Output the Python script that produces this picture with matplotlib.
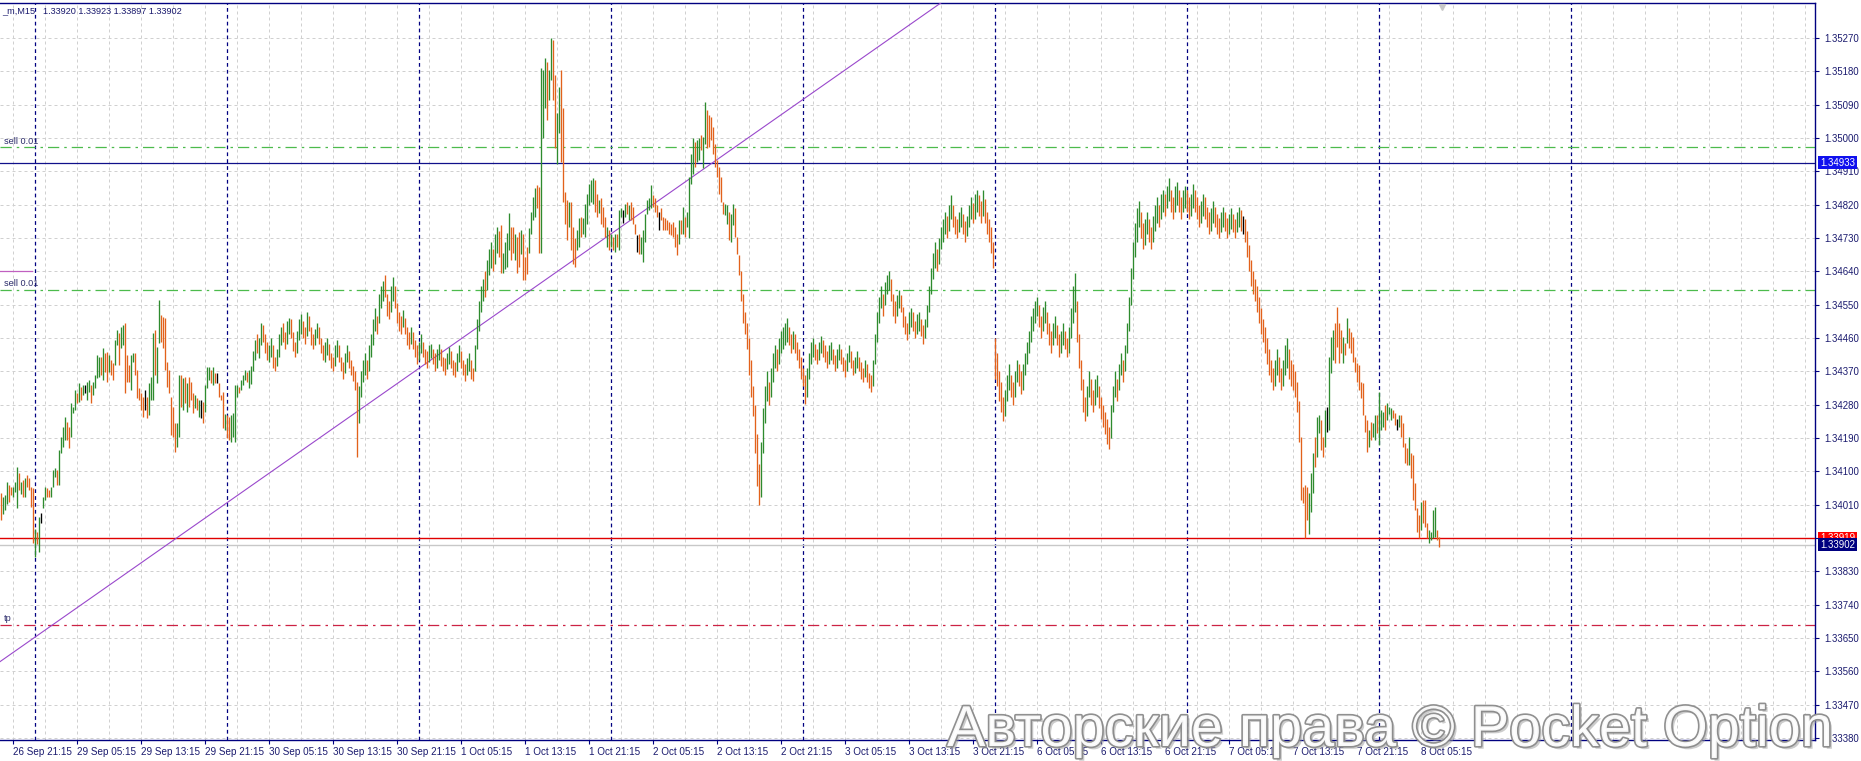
import matplotlib
matplotlib.use("Agg")
import matplotlib.pyplot as plt
import matplotlib.patheffects as pe
import matplotlib.transforms as mtransforms
import numpy as np
import pandas as pd

# ---------------- data (prices in points above 1.30000; 1 point = 0.00001) ----------------
BASE = 1.30000
POINT = 0.00001

# each bar: (low, high, direction)  u = up bar, d = down bar, n = doji
sep26 = [(3968,4041,'d'),(3985,4030,'u'),(3995,4035,'u'),(4013,4072,'u'),(4018,4063,'d'),(4036,4058,'d'),
         (4030,4058,'u'),(4045,4072,'u'),(4000,4113,'u'),(4050,4095,'d'),(4040,4072,'u'),(4031,4076,'d'),
         (4031,4081,'u'),(4058,4090,'d'),(4050,4081,'d'),(4005,4058,'d'),(3906,4054,'d')]

sep29 = [(3870,3945,'u'),(3905,3937,'d'),(3883,3978,'u'),(3960,3987,'n'),(4002,4031,'u'),(4023,4059,'u'),(4032,4054,'d'),(4031,4050,'d'),
         (4032,4059,'u'),(4059,4103,'u'),(4085,4108,'u'),(4063,4103,'d'),(4063,4158,'u'),(4149,4194,'u'),(4167,4221,'u'),(4185,4248,'u'),
         (4185,4234,'d'),(4162,4221,'d'),(4194,4284,'u'),(4257,4275,'u'),(4266,4320,'u'),(4284,4311,'d'),(4288,4338,'u'),(4293,4329,'d'),
         (4306,4333,'u'),(4311,4333,'n'),(4293,4342,'u'),(4315,4347,'u'),(4284,4333,'d'),(4306,4342,'u'),(4324,4360,'u'),(4351,4414,'u'),
         (4356,4410,'u'),(4360,4410,'d'),(4346,4432,'u'),(4369,4419,'d'),(4342,4423,'d'),(4369,4414,'u'),(4360,4401,'d'),(4347,4392,'d'),
         (4387,4455,'u'),(4441,4482,'u'),(4387,4473,'d'),(4432,4491,'u'),(4441,4495,'u'),(4311,4500,'d'),(4342,4414,'d'),(4342,4387,'d'),
         (4320,4414,'u'),(4396,4419,'u'),(4360,4419,'d'),(4297,4374,'d'),(4293,4324,'d'),(4266,4311,'d'),(4248,4302,'d'),(4266,4320,'n'),
         (4243,4302,'d'),(4252,4338,'u'),(4293,4356,'u'),(4293,4473,'u'),(4360,4482,'d'),(4338,4437,'u'),(4446,4563,'u'),(4450,4522,'d'),
         (4432,4518,'d'),(4374,4513,'d'),(4329,4396,'d'),(4311,4374,'d'),(4198,4302,'d'),(4194,4275,'d'),(4153,4230,'d'),(4167,4230,'u'),
         (4194,4360,'u'),(4275,4360,'d'),(4266,4351,'u'),(4284,4356,'d'),(4261,4338,'u'),(4275,4356,'d'),(4293,4342,'d'),(4257,4311,'d'),
         (4270,4306,'u'),(4266,4297,'d'),(4248,4293,'u'),(4243,4293,'n'),(4230,4288,'d'),(4261,4333,'u'),(4324,4383,'u'),(4347,4383,'u'),
         (4338,4374,'d'),(4333,4383,'u'),(4338,4365,'d'),(4338,4365,'n'),(4301,4338,'d'),(4293,4306,'d'),(4216,4315,'d'),(4212,4256,'u')]

sep30 = [(4189,4252,'d'),(4185,4248,'d'),(4180,4252,'u'),(4194,4257,'u'),(4180,4333,'u'),(4301,4333,'u'),(4311,4329,'d'),(4320,4347,'u'),
         (4333,4360,'u'),(4347,4374,'u'),(4342,4369,'d'),(4324,4374,'u'),(4335,4385,'u'),(4370,4425,'u'),(4400,4455,'u'),(4420,4470,'d'),
         (4405,4460,'u'),(4440,4500,'u'),(4450,4495,'d'),(4420,4470,'d'),(4400,4450,'d'),(4395,4440,'u'),(4410,4460,'u'),(4380,4440,'d'),
         (4370,4410,'d'),(4385,4430,'u'),(4410,4470,'u'),(4440,4490,'u'),(4450,4500,'d'),(4430,4475,'d'),(4445,4505,'u'),(4470,4515,'u'),
         (4460,4510,'d'),(4425,4475,'d'),(4410,4450,'d'),(4420,4480,'u'),(4455,4510,'u'),(4470,4525,'u'),(4460,4505,'d'),(4445,4490,'d'),
         (4465,4530,'u'),(4480,4520,'d'),(4440,4490,'d'),(4430,4470,'d'),(4440,4485,'u'),(4460,4500,'u'),(4445,4490,'d'),(4420,4460,'d'),
         (4400,4440,'d'),(4395,4450,'u'),(4415,4460,'u'),(4400,4445,'d'),(4380,4420,'d'),(4370,4410,'d'),(4385,4440,'u'),(4410,4455,'u'),
         (4395,4440,'d'),(4370,4410,'d'),(4350,4395,'d'),(4365,4420,'u'),(4395,4440,'u'),(4380,4425,'d'),(4360,4400,'d'),(4345,4385,'d'),
         (4320,4370,'d'),(4140,4340,'d'),(4230,4330,'u'),(4300,4370,'u'),(4340,4400,'u'),(4360,4420,'u'),(4350,4400,'d'),(4370,4440,'u'),
         (4410,4470,'u'),(4440,4510,'u'),(4480,4540,'u'),(4470,4520,'d'),(4500,4580,'u'),(4540,4600,'u'),(4560,4615,'u'),(4570,4630,'d'),
         (4520,4580,'d'),(4510,4560,'d'),(4530,4600,'u'),(4560,4625,'u'),(4540,4600,'d'),(4500,4555,'d'),(4480,4530,'d'),(4470,4520,'d'),
         (4490,4535,'u'),(4470,4515,'d'),(4440,4490,'d'),(4430,4475,'d'),(4445,4490,'u'),(4430,4475,'d'),(4410,4455,'d'),(4390,4440,'d')]

oct1 = [(4400,4450,'u'),(4420,4470,'u'),(4410,4450,'d'),(4390,4430,'d'),(4380,4425,'d'),(4395,4440,'u'),(4405,4445,'u'),(4390,4430,'d'),
        (4370,4420,'d'),(4380,4430,'u'),(4400,4445,'u'),(4385,4430,'d'),(4370,4410,'d'),(4360,4405,'d'),(4375,4420,'u'),(4390,4435,'u'),
        (4380,4425,'d'),(4360,4400,'d'),(4355,4395,'d'),(4370,4420,'u'),(4395,4440,'u'),(4380,4425,'d'),(4360,4400,'d'),(4345,4390,'d'),
        (4360,4405,'u'),(4370,4420,'u'),(4350,4400,'d'),(4345,4380,'d'),(4370,4440,'u'),(4430,4510,'u'),(4480,4560,'u'),(4530,4600,'u'),
        (4560,4620,'u'),(4570,4640,'d'),(4590,4670,'u'),(4630,4700,'u'),(4650,4720,'u'),(4640,4700,'d'),(4660,4740,'u'),(4690,4760,'u'),
        (4680,4750,'d'),(4635,4765,'d'),(4635,4689,'u'),(4645,4720,'u'),(4653,4743,'u'),(4697,4797,'u'),(4670,4760,'d'),(4689,4760,'d'),
        (4670,4742,'u'),(4635,4733,'d'),(4652,4747,'d'),(4688,4752,'u'),(4617,4742,'d'),(4617,4679,'d'),(4634,4706,'d'),(4689,4756,'u'),
        (4742,4801,'u'),(4778,4841,'u'),(4788,4864,'u'),(4810,4873,'d'),(4689,4868,'d'),(4689,5188,'u'),(4999,5184,'u'),(5080,5215,'u'),
        (5049,5206,'d'),(5103,5184,'u'),(5156,5269,'u'),(5103,5265,'d'),(4972,5170,'d'),(4931,5067,'u'),(5013,5139,'u'),(4936,5184,'d'),
        (4828,5080,'d'),(4769,4855,'d'),(4724,4832,'d'),(4760,4828,'u'),(4697,4828,'d'),(4661,4760,'d'),(4652,4729,'d'),(4697,4751,'u'),
        (4706,4783,'u'),(4733,4788,'d'),(4742,4783,'u'),(4733,4823,'u'),(4769,4850,'u'),(4819,4877,'u'),(4828,4886,'u'),(4823,4891,'u'),
        (4801,4886,'d'),(4787,4850,'d'),(4797,4832,'u'),(4769,4837,'d'),(4760,4815,'d'),(4733,4787,'d'),(4706,4760,'u'),(4697,4751,'d')]

oct2 = [(4706,4742,'u'),(4697,4733,'d'),(4693,4742,'u'),(4706,4742,'d'),(4697,4805,'u'),(4787,4810,'u'),(4770,4805,'n'),(4787,4823,'u'),
        (4796,4828,'d'),(4778,4819,'u'),(4778,4828,'d'),(4769,4814,'d'),(4742,4769,'d'),(4693,4738,'n'),(4688,4742,'d'),(4688,4733,'u'),
        (4666,4751,'u'),(4720,4796,'u'),(4796,4832,'u'),(4805,4837,'u'),(4810,4873,'u'),(4814,4846,'d'),(4801,4837,'d'),(4787,4819,'d'),
        (4751,4801,'n'),(4778,4810,'d'),(4751,4787,'d'),(4751,4783,'d'),(4751,4778,'d'),(4742,4774,'d'),(4738,4769,'d'),(4733,4774,'d'),
        (4706,4760,'d'),(4684,4742,'d'),(4715,4778,'u'),(4742,4778,'d'),(4742,4814,'u'),(4733,4787,'d'),(4760,4800,'u'),(4729,4896,'u'),
        (4877,4958,'u'),(4904,4999,'u'),(4922,4990,'d'),(4936,4994,'u'),(4940,4999,'u'),(4967,5008,'d'),(4918,5003,'u'),(4985,5098,'u'),
        (4972,5075,'d'),(4976,5062,'d'),(4994,5057,'d'),(4958,5031,'d'),(4922,4985,'d'),(4895,4940,'d'),(4850,4922,'d'),(4828,4895,'d'),
        (4796,4828,'d'),(4792,4823,'u'),(4769,4819,'u'),(4724,4801,'d'),(4720,4796,'u'),(4765,4823,'u'),(4733,4810,'d'),(4688,4733,'d'),
        (4630,4684,'d'),(4560,4640,'d'),(4500,4580,'d'),(4470,4530,'d'),(4430,4500,'d'),(4360,4460,'d'),(4300,4400,'d'),(4250,4330,'d'),
        (4150,4280,'d'),(4060,4200,'d'),(4010,4120,'d'),(4030,4180,'u'),(4150,4270,'u'),(4230,4330,'u'),(4290,4370,'u'),(4280,4340,'d'),
        (4300,4380,'u'),(4340,4420,'u'),(4380,4440,'u'),(4370,4430,'d'),(4390,4460,'u'),(4420,4480,'u'),(4430,4490,'u'),(4440,4500,'u'),
        (4450,4515,'u'),(4440,4490,'d'),(4420,4470,'d'),(4430,4480,'u'),(4420,4470,'d'),(4400,4450,'d'),(4380,4430,'d'),(4350,4410,'d')]

oct3 = [(4330,4380,'d'),(4283,4360,'d'),(4300,4380,'u'),(4350,4420,'u'),(4390,4450,'u'),(4410,4460,'u'),(4400,4445,'d'),(4390,4430,'d'),
        (4400,4450,'u'),(4420,4465,'u'),(4410,4455,'d'),(4395,4440,'d'),(4380,4425,'d'),(4390,4440,'u'),(4400,4450,'u'),(4390,4430,'d'),
        (4370,4415,'d'),(4380,4430,'u'),(4400,4445,'u'),(4390,4430,'d'),(4370,4410,'d'),(4355,4400,'d'),(4370,4420,'u'),(4395,4440,'u'),
        (4380,4425,'d'),(4360,4400,'d'),(4365,4410,'u'),(4380,4425,'u'),(4370,4410,'d'),(4350,4395,'d'),(4340,4380,'d'),(4355,4400,'u'),
        (4340,4390,'d'),(4325,4365,'d'),(4315,4360,'d'),(4330,4400,'u'),(4390,4470,'u'),(4450,4530,'u'),(4500,4570,'u'),(4540,4600,'u'),
        (4520,4580,'d'),(4550,4610,'u'),(4580,4630,'u'),(4590,4642,'u'),(4560,4620,'d'),(4520,4580,'d'),(4500,4560,'d'),(4520,4575,'u'),
        (4540,4590,'u'),(4530,4575,'d'),(4490,4545,'d'),(4470,4520,'d'),(4455,4500,'d'),(4470,4530,'u'),(4490,4540,'u'),(4480,4530,'d'),
        (4460,4505,'d'),(4470,4525,'u'),(4480,4530,'u'),(4465,4510,'d'),(4445,4495,'d'),(4460,4510,'u'),(4490,4550,'u'),(4530,4600,'u'),
        (4580,4650,'u'),(4620,4690,'u'),(4650,4720,'u'),(4640,4700,'d'),(4660,4730,'u'),(4700,4760,'u'),(4720,4780,'u'),(4740,4800,'u'),
        (4730,4790,'d'),(4750,4820,'u'),(4780,4845,'u'),(4760,4820,'d'),(4740,4790,'d'),(4730,4780,'d'),(4745,4800,'u'),(4760,4815,'u'),
        (4740,4795,'d'),(4720,4775,'d'),(4735,4790,'u'),(4760,4820,'u'),(4780,4840,'u'),(4770,4825,'d'),(4780,4850,'u'),(4800,4860,'u'),
        (4790,4845,'d'),(4770,4830,'d'),(4790,4860,'u'),(4770,4835,'d'),(4740,4800,'d'),(4720,4780,'d'),(4690,4760,'d'),(4650,4720,'d')]

oct6 = [(4350,4460,'d'),(4330,4420,'d'),(4290,4370,'d'),(4260,4340,'d'),(4235,4300,'d'),(4250,4320,'u'),(4290,4360,'u'),(4320,4390,'u'),
        (4300,4360,'d'),(4280,4340,'d'),(4300,4370,'u'),(4340,4400,'u'),(4330,4390,'d'),(4310,4370,'d'),(4320,4390,'u'),(4360,4420,'u'),
        (4390,4450,'u'),(4420,4480,'u'),(4450,4520,'u'),(4480,4540,'u'),(4500,4560,'u'),(4520,4571,'u'),(4490,4550,'d'),(4460,4520,'d'),
        (4480,4545,'u'),(4500,4560,'u'),(4470,4530,'d'),(4440,4500,'d'),(4420,4480,'d'),(4440,4500,'u'),(4460,4520,'u'),(4440,4495,'d'),
        (4410,4470,'d'),(4420,4480,'u'),(4440,4500,'u'),(4430,4480,'d'),(4410,4460,'d'),(4420,4490,'u'),(4460,4540,'u'),(4500,4600,'u'),
        (4530,4635,'u'),(4450,4560,'d'),(4380,4470,'d'),(4320,4400,'d'),(4260,4350,'d'),(4235,4300,'d'),(4250,4330,'u'),(4300,4370,'u'),
        (4280,4350,'d'),(4260,4320,'d'),(4280,4350,'u'),(4300,4360,'u'),(4270,4330,'d'),(4240,4300,'d'),(4220,4280,'d'),(4200,4260,'d'),
        (4175,4240,'d'),(4161,4220,'d'),(4190,4280,'u'),(4260,4330,'u'),(4300,4370,'u'),(4290,4350,'d'),(4320,4390,'u'),(4360,4420,'u'),
        (4340,4400,'d'),(4370,4440,'u'),(4420,4500,'u'),(4480,4570,'u'),(4550,4650,'u'),(4620,4720,'u'),(4680,4770,'u'),(4720,4810,'u'),
        (4760,4830,'u'),(4730,4800,'d'),(4700,4770,'d'),(4710,4780,'u'),(4740,4800,'u'),(4720,4780,'d'),(4700,4760,'d'),(4720,4790,'u'),
        (4750,4820,'u'),(4770,4840,'u'),(4760,4820,'d'),(4780,4850,'u'),(4800,4860,'u'),(4790,4850,'d'),(4810,4870,'u'),(4830,4892,'u'),
        (4800,4860,'d'),(4780,4840,'d'),(4800,4870,'u'),(4820,4880,'u'),(4800,4860,'d'),(4780,4840,'d'),(4800,4860,'u'),(4810,4870,'u')]

oct7 = [(4800,4860,'d'),(4780,4840,'d'),(4790,4850,'u'),(4810,4875,'u'),(4800,4860,'d'),(4780,4840,'d'),(4760,4820,'d'),(4770,4830,'u'),
        (4790,4850,'u'),(4780,4840,'d'),(4760,4815,'d'),(4740,4800,'d'),(4750,4810,'u'),(4770,4830,'u'),(4760,4815,'d'),(4740,4795,'d'),
        (4730,4785,'d'),(4745,4800,'u'),(4760,4815,'u'),(4750,4800,'d'),(4730,4785,'d'),(4740,4795,'u'),(4755,4810,'u'),(4745,4795,'d'),
        (4730,4780,'d'),(4745,4800,'u'),(4760,4815,'u'),(4750,4805,'d'),(4740,4790,'n'),(4720,4780,'d'),(4680,4750,'d'),(4640,4710,'d'),
        (4600,4670,'d'),(4580,4640,'d'),(4560,4620,'d'),(4530,4600,'d'),(4500,4570,'d'),(4470,4540,'d'),(4450,4510,'d'),(4420,4490,'d'),
        (4390,4460,'d'),(4360,4430,'d'),(4340,4400,'d'),(4320,4380,'d'),(4330,4400,'u'),(4360,4430,'u'),(4340,4410,'d'),(4320,4380,'d'),
        (4330,4400,'u'),(4360,4440,'u'),(4380,4460,'u'),(4350,4430,'d'),(4330,4400,'d'),(4320,4390,'d'),(4300,4370,'d'),(4260,4340,'d'),
        (4180,4290,'d'),(4023,4194,'d'),(4014,4059,'d'),(3919,4063,'d'),(3968,4059,'d'),(3932,4041,'u'),(3991,4095,'u'),(4041,4149,'u'),
        (4113,4194,'d'),(4140,4248,'u'),(4203,4252,'u'),(4158,4239,'d'),(4140,4194,'d'),(4167,4266,'u'),(4207,4275,'n'),(4212,4410,'u'),
        (4365,4464,'u'),(4401,4482,'u'),(4392,4500,'d'),(4437,4545,'d'),(4392,4500,'d'),(4419,4482,'d'),(4392,4464,'u'),(4414,4446,'d'),
        (4446,4513,'u'),(4432,4486,'d'),(4419,4477,'d'),(4396,4464,'d'),(4369,4410,'d'),(4342,4392,'d'),(4320,4387,'d'),(4297,4342,'d'),
        (4252,4338,'d'),(4207,4252,'d'),(4153,4239,'d'),(4167,4212,'u'),(4185,4234,'d'),(4194,4230,'u'),(4185,4252,'u'),(4203,4252,'d')]

oct8 = [(4171,4315,'u'),(4212,4266,'u'),(4221,4261,'u'),(4212,4279,'d'),(4239,4284,'u'),(4256,4275,'u'),(4239,4270,'u'),(4243,4266,'d'),
        (4225,4257,'d'),(4212,4240,'n'),(4221,4252,'u'),(4194,4252,'d'),(4167,4230,'d'),(4122,4176,'d'),(4117,4162,'d'),(4117,4194,'u'),
        (4081,4149,'d'),(4023,4144,'d'),(3996,4068,'d'),(3937,4000,'d'),(3919,3982,'d'),(3942,4018,'u'),(3960,4023,'d'),(3951,4023,'d'),
        (3919,3960,'d'),(3906,3942,'u'),(3915,3937,'u'),(3919,3996,'u'),(3924,4005,'u'),(3915,3942,'d'),(3897,3923,'d')]

day_starts = ["2025-09-26 19:45", "2025-09-29 00:00", "2025-09-30 00:00", "2025-10-01 00:00",
              "2025-10-02 00:00", "2025-10-03 00:00", "2025-10-06 00:00", "2025-10-07 00:00",
              "2025-10-08 00:00"]
day_bars = [sep26, sep29, sep30, oct1, oct2, oct3, oct6, oct7, oct8]

header_symbol = "_m,M15"
header_ohlc = ["1.33920", "1.33923", "1.33897", "1.33902"]

price_ticks = [1.33380, 1.33470, 1.33560, 1.33650, 1.33740, 1.33830, 1.33920, 1.34010, 1.34100,
               1.34190, 1.34280, 1.34370, 1.34460, 1.34550, 1.34640, 1.34730, 1.34820, 1.34910,
               1.35000, 1.35090, 1.35180, 1.35270]
hidden_tick = 1.33920

level_blue = 1.34933
level_red = 1.33919
level_bid = 1.33902
sell_levels = [1.34975, 1.34590]
sell_text = "sell 0.01"
tp_level = 1.33686
tp_text = "tp"
magenta_level = 1.34641
trend_bars = [0, 470]
trend_prices = [1.33588, 1.35365]
watermark = "Авторские права © Pocket Option"

y_range = (1.333746, 1.353645)

# ---------------- build series ----------------
times, lows, highs, dirs = [], [], [], []
for start, bars in zip(day_starts, day_bars):
    t0 = pd.Timestamp(start)
    for k, (lo, hi, d) in enumerate(bars):
        times.append(t0 + pd.Timedelta(minutes=15 * k))
        lows.append(BASE + lo * POINT)
        highs.append(BASE + hi * POINT)
        dirs.append(d)
n = len(times)
idx = np.arange(n)
day_first = np.cumsum([0] + [len(b) for b in day_bars])[1:-1]
sep_positions = list(day_first) + [day_first[-1] + 96]

UP, DOWN, DOJI = "#2e8b2e", "#e2621b", "#000000"
cmap = {"u": UP, "d": DOWN, "n": DOJI}
NAVY = "#000080"
TXT = "#1a1a6e"
FONT = "Liberation Sans"
FS = 6.6
FSX = 7.1
FSY = 6.9

# ---------------- figure ----------------
W, H, DPI = 1861, 761, 100
fig = plt.figure(figsize=(W / DPI, H / DPI), dpi=DPI)
fig.patch.set_facecolor("white")
ax_left, ax_right, ax_top, ax_bot = 0, 1815, 3, 740
ax = fig.add_axes([ax_left / W, 1 - ax_bot / H, (ax_right - ax_left) / W, (ax_bot - ax_top) / H])
ax.set_xlim(-0.5, 907.0)
ax.set_ylim(*y_range)

# grid
for p in price_ticks:
    ax.axhline(p, color="#d0d0d0", lw=0.72, ls=(0, (3, 3)), zorder=0)
for gx in np.arange(6, 908, 16):
    ax.axvline(gx, color="#d0d0d0", lw=0.72, ls=(0, (3, 3)), zorder=0)

# day separators
for sx in sep_positions:
    ax.axvline(sx, color=NAVY, lw=0.9, ls=(0, (3, 2.5)), zorder=1)

# levels
ax.axhline(level_blue, color="#10108a", lw=0.9, zorder=3)
for p in sell_levels:
    ax.axhline(p, color="#4cbb4c", lw=0.9, ls=(0, (9, 4, 2, 4)), zorder=2)
ax.axhline(tp_level, color="#cc2244", lw=0.9, ls=(0, (9, 4, 2, 4)), zorder=2)
ax.axhline(level_bid, color="#c8c8c8", lw=1.0, zorder=2)
ax.axhline(level_red, color="#e00000", lw=1.0, zorder=3)
ax.plot([-0.5, 15.5], [magenta_level, magenta_level], color="#c060c0", lw=0.9, zorder=3)

# trend line
ax.axline((trend_bars[0], trend_prices[0]), (trend_bars[1], trend_prices[1]),
          color="#9a48cc", lw=0.8, zorder=3)

# bars
ax.vlines(idx, lows, highs, colors=[cmap[d] for d in dirs], lw=0.95, zorder=4)

# chart shift marker
ax.plot([n + 0.5], [y_range[1] - 0.00010], marker="v", ms=4, color="#c8c8c8", clip_on=False, zorder=5)

# spines
for s in ["top", "right", "bottom"]:
    ax.spines[s].set_color(NAVY)
    ax.spines[s].set_linewidth(1.0)
ax.spines["left"].set_visible(False)

# y axis on right
ax.yaxis.tick_right()
ax.set_yticks(price_ticks)
ax.set_yticklabels(["" if abs(p - hidden_tick) < 1e-7 else f"{p:.5f}" for p in price_ticks])
ax.tick_params(axis="y", direction="out", length=3, width=0.8, color=NAVY, pad=3.5,
               labelsize=FSY, labelcolor=TXT)

# x axis
tick_pos, tick_lab = [], []
for i, t in enumerate(times):
    if t.minute == 15 and t.hour in (5, 13, 21):
        tick_pos.append(i)
        tick_lab.append(f"{t.day} {t:%b} {t:%H:%M}")
ax.set_xticks(tick_pos)
ax.set_xticklabels(tick_lab)
ax.tick_params(axis="x", direction="out", length=3, width=0.8, color=NAVY, pad=2,
               labelsize=FSX, labelcolor=TXT)
for lbl in ax.get_xticklabels() + ax.get_yticklabels():
    lbl.set_fontfamily(FONT)
for lbl in ax.get_xticklabels():
    lbl.set_horizontalalignment("left")

# price boxes on right
btr = mtransforms.blended_transform_factory(ax.transAxes, ax.transData)
def price_box(p, fc, txt):
    ax.text(1.0 + 5 / 1815, p, txt, transform=btr, ha="left", va="center", fontsize=FSY,
            family=FONT, color="white", clip_on=False, zorder=10,
            bbox=dict(boxstyle="square,pad=0.16", fc=fc, ec="none"))
price_box(level_blue, "#1010ee", f"{level_blue:.5f}")
price_box(level_red, "#ff0000", f"{level_red:.5f}")
price_box(level_bid, "#000080", f"{level_bid:.5f}")

# left labels
for p in sell_levels:
    ax.annotate(sell_text, xy=(-0.5, p), xycoords="data", xytext=(4, 6),
                textcoords="offset pixels", ha="left", va="center", fontsize=FS,
                family=FONT, color="#2b2b6b", annotation_clip=False)
ax.annotate(tp_text, xy=(-0.5, tp_level), xycoords="data", xytext=(4, 6),
            textcoords="offset pixels", ha="left", va="center", fontsize=FS,
            family=FONT, color="#2b2b6b", annotation_clip=False)

# header
fig.text(2 / W, 1 - 11 / H, header_symbol, ha="left", va="center", fontsize=FS,
         family=FONT, color=TXT)
fig.text(43 / W, 1 - 11 / H, " ".join(header_ohlc), ha="left", va="center", fontsize=FS,
         family=FONT, color=TXT)

# watermark
fig.text(947 / W, 1 - 746 / H, watermark, ha="left", va="baseline",
         fontsize=41.5, family=FONT, color="white", alpha=0.95, zorder=20,
         path_effects=[pe.SimplePatchShadow(offset=(2, -2), shadow_rgbFace="#9a9a9a", alpha=0.5),
                       pe.Stroke(linewidth=2.4, foreground="#8a8a8a"), pe.Normal()])

fig.savefig("out.png", dpi=DPI)
